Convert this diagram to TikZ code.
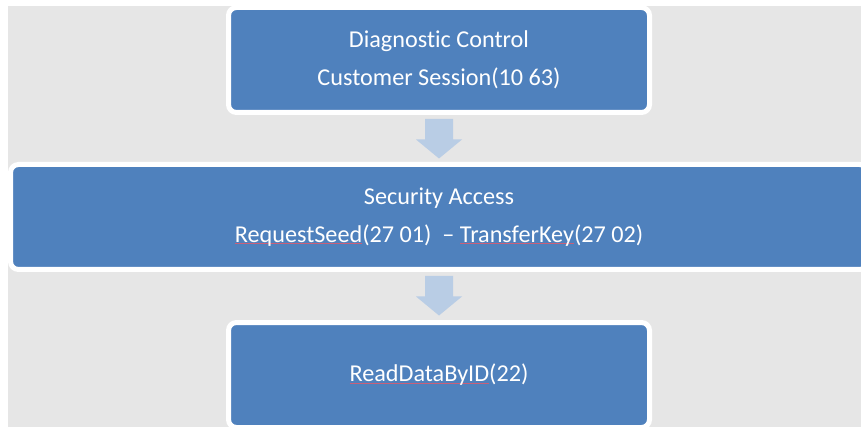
\documentclass[tikz,border=0pt]{standalone}
\usepackage{fontspec}
\setmainfont{Carlito}[Ligatures={NoCommon}]
\usetikzlibrary{calc}
\definecolor{bgGray}{HTML}{E6E6E6}
\definecolor{boxBlue}{HTML}{4F81BD}
\definecolor{arrowBlue}{HTML}{B9CDE5}
\definecolor{squigRed}{HTML}{C8607A}
\newcommand\spellmark[1]{\setbox0\hbox{#1}\rlap{\textcolor{squigRed}{\rule[-2pt]{\wd0}{0.9pt}}}\box0}
\begin{document}
\begin{tikzpicture}[x=1pt,y=-1pt,
  box/.style={draw=white, line width=5pt, fill=boxBlue, rounded corners=8pt,
    text=white, font=\fontsize{24.2}{37.5}\selectfont, align=center,
    inner sep=0pt, minimum height=105pt},
  flowarrow/.style={fill=arrowBlue}]
\useasboundingbox (0,0) rectangle (861,427);
\fill[white] (0,0) rectangle (861,427);
\fill[bgGray] (8,6) rectangle (861,427);
\node[box, minimum width=421pt] (diag) at (439,60)
  {Diagnostic Control\\Customer Session(10 63)};
\node[box, minimum width=857pt] (sec) at (439,217)
  {Security Access\\\spellmark{RequestSeed}(27 01)\ \ – \spellmark{TransferKey}(27 02)};
\node[box, minimum width=421pt] (read) at (439,375)
  {\spellmark{ReadDataByID}(22)};
\fill[flowarrow] ($(diag.south)+(-14,4)$) -- ($(diag.south)+(14,4)$)
  -- ($(diag.south)+(14,24.5)$) -- ($(diag.south)+(23,24.5)$)
  -- ($(diag.south)+(0,43.5)$) -- ($(diag.south)+(-23,24.5)$)
  -- ($(diag.south)+(-14,24.5)$) -- cycle;
\fill[flowarrow] ($(sec.south)+(-14,4)$) -- ($(sec.south)+(14,4)$)
  -- ($(sec.south)+(14,24.5)$) -- ($(sec.south)+(23,24.5)$)
  -- ($(sec.south)+(0,43.5)$) -- ($(sec.south)+(-23,24.5)$)
  -- ($(sec.south)+(-14,24.5)$) -- cycle;
\end{tikzpicture}
\end{document}
